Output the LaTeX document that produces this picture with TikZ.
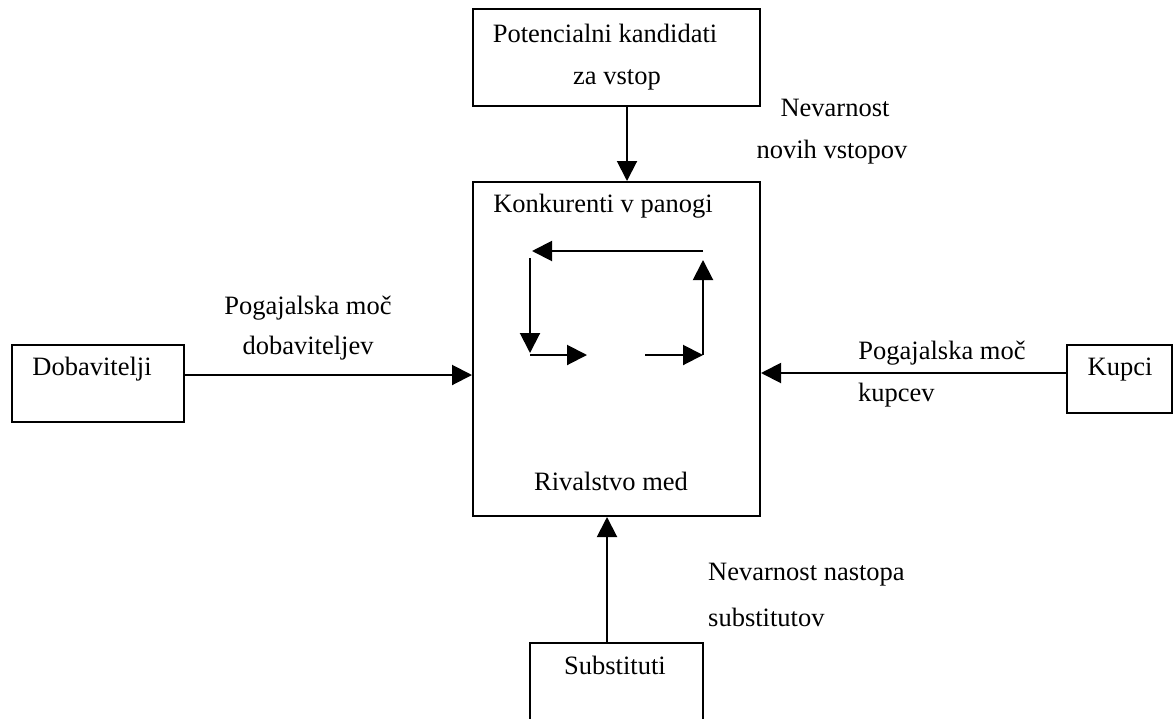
\documentclass[tikz,border=0pt]{standalone}
\usepackage{fontspec}
\setmainfont{Liberation Serif}
\usetikzlibrary{arrows.meta}

\begin{document}
\begin{tikzpicture}[
    x=1pt, y=-1pt,
    arr/.style={-{Triangle[length=20pt,width=20pt]}, line width=2pt, draw=black},
    forcebox/.style={draw=black, line width=2pt, fill=white, inner sep=0pt},
    txt/.style={font=\fontsize{26.5}{30}\selectfont, inner sep=0pt, anchor=mid}
]
\useasboundingbox (0,0) rectangle (1174,718);

%------------------------------------------------
% Okvirji
%------------------------------------------------
\node[forcebox, minimum width=287pt, minimum height=97pt]  (potbox) at (616.5,57.5) {};
\node[forcebox, minimum width=287pt, minimum height=334pt] (konbox) at (616.5,349) {};
\node[forcebox, minimum width=172pt, minimum height=77pt]  (dobbox) at (98,383.5) {};
\node[forcebox, minimum width=105pt, minimum height=68pt]  (kupbox) at (1119.5,379) {};
\node[forcebox, minimum width=173pt, minimum height=92pt]  (subbox) at (616.5,689) {};

%------------------------------------------------
% Besedila
%------------------------------------------------
\node[txt] (pot1) at (605,40) {Potencialni kandidati};
\node[txt] (pot2) at (617,82) {za vstop};
\node[txt] (kon)  at (603,210) {Konkurenti v panogi};
\node[txt] (riv)  at (611,488) {Rivalstvo med};
\node[txt] (dob)  at (92,373) {Dobavitelji};
\node[txt] (kup)  at (1120,373) {Kupci};
\node[txt] (sub)  at (615,672) {Substituti};

\node[txt] (nev1) at (835,114) {Nevarnost};
\node[txt] (nev2) at (832,156) {novih vstopov};
\node[txt] (pmd1) at (308,312) {Pogajalska moč};
\node[txt] (pmd2) at (308,352) {dobaviteljev};
\node[txt] (pmk1) at (942,357) {Pogajalska moč};
\node[txt, anchor=west] (pmk2) at (858,395) {kupcev};
\node[txt, anchor=west] (nns1) at (708,575) {Nevarnost nastopa};
\node[txt, anchor=west] (nns2) at (708,617) {substitutov};

%------------------------------------------------
% Puščice sil
%------------------------------------------------
\draw[arr] ([xshift=10.5pt]potbox.south) -- ([xshift=10.5pt]konbox.north);
\draw[arr] ([yshift=8.5pt]dobbox.east) -- ([yshift=8.5pt]dobbox.east -| konbox.west);
\draw[arr] ([yshift=6pt]kupbox.west) -- ([yshift=6pt]kupbox.west -| konbox.east);
\draw[arr] ([xshift=-9.5pt]subbox.north) -- ([xshift=-9.5pt]subbox.north |- konbox.south);

% krog rivalstva v panogi
\coordinate (tr) at (703,251);
\coordinate (tl) at (532,251);
\coordinate (lt) at (530,258);
\coordinate (lb) at (530,353);
\coordinate (bl) at (530,355);
\coordinate (bm) at (587,355);
\coordinate (bn) at (645,355);
\coordinate (br) at (703,355);
\coordinate (rt) at (703,260);

\draw[arr] (tr) -- (tl);
\draw[arr] (lt) -- (lb);
\draw[arr] (bl) -- (bm);
\draw[arr] (bn) -- (br);
\draw[arr] (br) -- (rt);

\end{tikzpicture}
\end{document}
